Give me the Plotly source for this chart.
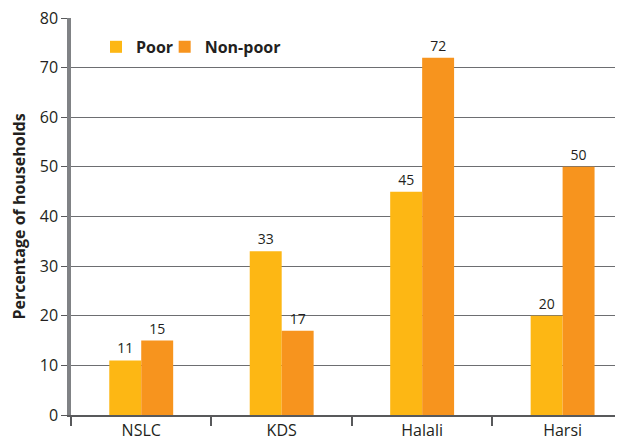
import plotly.graph_objects as go

categories = ["NSLC", "KDS", "Halali", "Harsi"]
poor = [11, 33, 45, 20]
non_poor = [15, 17, 72, 50]
y_ticks = [0, 10, 20, 30, 40, 50, 60, 70, 80]

FONT = "Open Sans"
TXT = "#231f20"

fig = go.Figure()
fig.add_trace(go.Bar(
    name="Poor", x=categories, y=poor, marker=dict(color="#fdb714", line=dict(width=0)),
    text=poor, textposition="outside", cliponaxis=False,
    textfont=dict(family=FONT, size=14, color=TXT), legend="legend",
))
fig.add_trace(go.Bar(
    name="Non-poor", x=categories, y=non_poor, marker=dict(color="#f7941e", line=dict(width=0)),
    text=non_poor, textposition="outside", cliponaxis=False,
    textfont=dict(family=FONT, size=14, color=TXT), legend="legend2",
))

legend_common = dict(
    orientation="h", yanchor="top", y=0.97, xanchor="left",
    font=dict(family=FONT, size=16, color=TXT, weight="bold"),
    bgcolor="rgba(0,0,0,0)", itemclick=False, itemdoubleclick=False,
)

# page body adds an 8px offset; size/margins compensate so the plot lands on the reference pixels
fig.update_layout(
    width=615, height=431,
    margin=dict(l=63, r=0, t=10, b=24),
    paper_bgcolor="white", plot_bgcolor="white",
    barmode="group", bargap=0.545, bargroupgap=0,
    font=dict(family=FONT, color=TXT, size=16),
    showlegend=True,
    legend=dict(x=0.0453, **legend_common),
    legend2=dict(x=0.1697, **legend_common),
    xaxis=dict(
        range=[-0.5, 3.43], showgrid=False, showline=True, linecolor="#58595b", linewidth=2,
        ticks="outside", tickson="boundaries", ticklen=9, tickcolor="#58595b", tickwidth=1.5,
        tickfont=dict(family=FONT, size=16, color=TXT), automargin=False,
        ticklabeloverflow="allow",
    ),
    yaxis=dict(
        range=[0, 80], tickvals=y_ticks, showgrid=True, gridcolor="#6d6e71", gridwidth=1.3,
        showline=True, linecolor="#808285", linewidth=3.5, zeroline=False,
        ticks="outside", ticklen=6, tickcolor="#58595b", tickwidth=1.3,
        tickfont=dict(family=FONT, size=16, color=TXT), automargin=False,
        ticklabeloverflow="allow",
        title=dict(text="Percentage of households", standoff=12,
                   font=dict(family=FONT, size=16, color=TXT, weight="bold")),
    ),
)

fig.write_html("out.html")
